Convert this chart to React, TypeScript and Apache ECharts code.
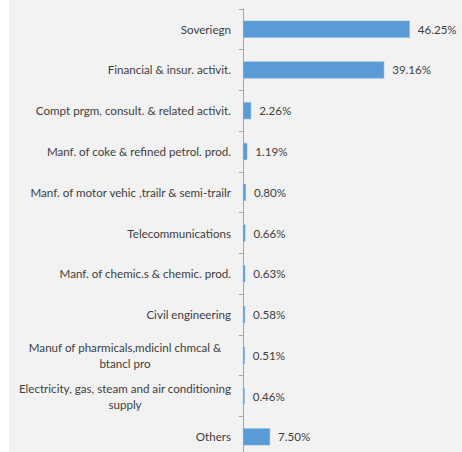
import React, { useEffect, useRef } from "react";
import * as echarts from "echarts";

const categories = [
  "Soveriegn",
  "Financial & insur. activit.",
  "Compt prgm, consult. & related activit.",
  "Manf. of coke & refined petrol. prod.",
  "Manf. of motor vehic ,trailr & semi-trailr",
  "Telecommunications",
  "Manf. of chemic.s & chemic. prod.",
  "Civil engineering",
  "Manuf of pharmicals,mdicinl chmcal &\nbtancl pro",
  "Electricity, gas, steam and air conditioning\nsupply",
  "Others",
];

const values = [46.25, 39.16, 2.26, 1.19, 0.8, 0.66, 0.63, 0.58, 0.51, 0.46, 7.5];

export default function App() {
  const ref = useRef<HTMLDivElement>(null);

  useEffect(() => {
    if (!ref.current) return;
    const chart = echarts.init(ref.current, null, { renderer: "svg" });
    const font = "Lato";
    const fs = 11.6;
    const labelFormatter = (v: string) => {
      if (v.includes("\n")) {
        const parts = v.split("\n");
        return parts.map((p) => `{c|${p}}`).join("\n");
      }
      return v;
    };
    chart.setOption({
      animation: false,
      backgroundColor: "transparent",
      graphic: [
        {
          type: "rect",
          z: -10,
          silent: true,
          shape: { x: 9, y: 0, width: 453, height: 452 },
          style: { fill: "#f2f2f2" },
        },
      ],
      grid: {
        left: 243,
        top: 8.8,
        height: 448.4,
        width: 216.3,
        containLabel: false,
        outerBoundsMode: "none",
      },
      xAxis: {
        type: "value",
        min: 0,
        max: 60,
        show: false,
      },
      yAxis: {
        type: "category",
        inverse: true,
        data: categories,
        axisLine: { show: true, lineStyle: { color: "#a6a6a6", width: 1 } },
        axisTick: { show: true, length: 4, lineStyle: { color: "#a6a6a6" } },
        axisLabel: {
          margin: 12,
          fontFamily: font,
          fontSize: fs,
          color: "#404040",
          lineHeight: 16,
          formatter: labelFormatter,
          rich: {
            c: { width: 212, align: "center", fontFamily: font, fontSize: fs, color: "#404040", lineHeight: 16 },
          },
        },
        splitLine: { show: false },
      },
      series: [
        {
          type: "bar",
          data: values,
          barWidth: 17,
          itemStyle: { color: "#5b9bd5", borderColor: "#7fb2e0", borderWidth: 0.5 },
          label: {
            show: true,
            position: "right",
            distance: 8,
            fontFamily: font,
            fontSize: fs,
            color: "#404040",
            formatter: (p: any) => p.value.toFixed(2) + "%",
          },
        },
      ],
    });
    return () => chart.dispose();
  }, []);

  return (
    <div style={{ position: "fixed", left: 0, top: 0, width: 462, height: 452, background: "#ffffff" }}>
      <div ref={ref} style={{ width: 462, height: 452 }} />
    </div>
  );
}
